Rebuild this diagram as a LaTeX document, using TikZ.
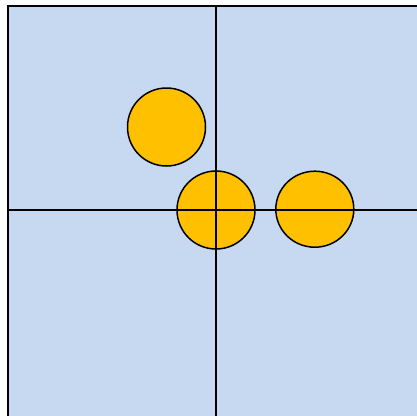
\documentclass[tikz,border=0pt]{standalone}
\usepackage{xcolor}
\usepackage{tikz}
\usetikzlibrary{shapes.geometric}

\definecolor{planeblue}{HTML}{C6D9F1}
\definecolor{dotgold}{HTML}{FFC000}

\begin{document}
\begin{tikzpicture}[x=1pt,y=-1pt,
		dot/.style={circle, draw=black, fill=dotgold, line width=1.5pt, minimum size=78pt, inner sep=0pt}]
				\clip (0,0) rectangle (417,415);
				\draw[fill=planeblue, line width=2pt] (8,6) rectangle (430,430);
				
				\node[dot] (p1) at (166.5,127) {};
				\node[dot] (p2) at (216,210) {};
				\node[dot, ellipse, minimum width=78pt, minimum height=76pt] (p3) at (314.8,209.2) {};
				
				\coordinate (top) at (216,6);
				\coordinate (bottom) at (216,430);
				\coordinate (left) at (8,210);
				\coordinate (right) at (430,210);
				\draw[line width=1.4pt] (top) -- (bottom);
				\draw[line width=1.4pt] (left) -- (right);
			\end{tikzpicture}
\end{document}
